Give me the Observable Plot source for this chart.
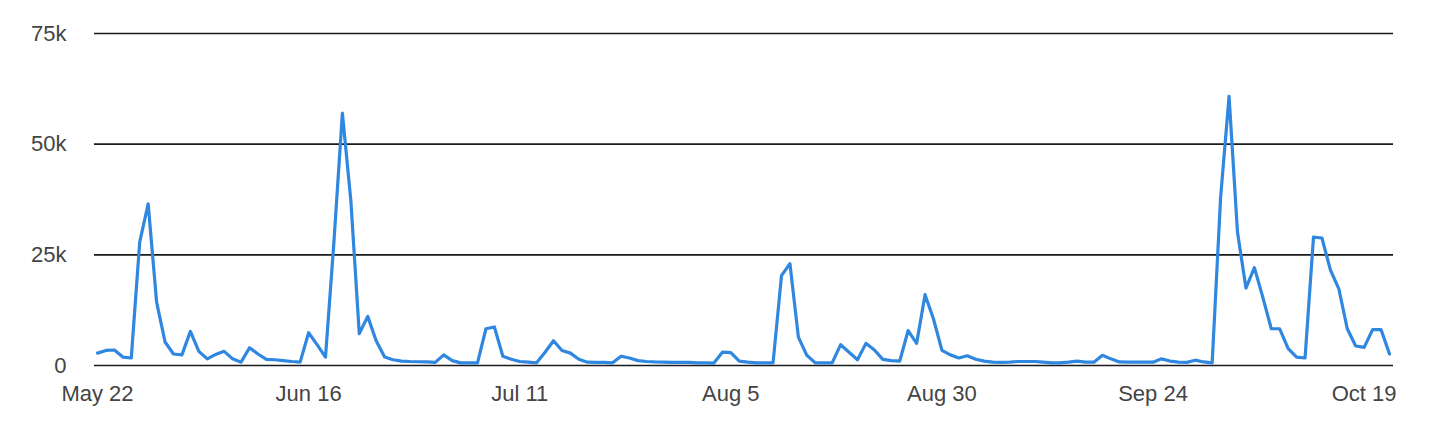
<!DOCTYPE html>
<html>
<head>
<meta charset="utf-8">
<script src="https://cdn.jsdelivr.net/npm/d3@7"></script>
<script src="https://cdn.jsdelivr.net/npm/@observablehq/plot@0.6"></script>
<style>
  html, body { margin: 0; padding: 0; background: #ffffff; }
  #chart { width: 1456px; height: 430px; overflow: hidden; }
</style>
</head>
<body>
<div id="chart"></div>
<script>
// ---- Data (daily values, starting May 22) ----
const startDate = "2023-05-22";
const dailyValues = [
  2800, 3400, 3500, 1900, 1700, 27900, 36500, 14300, 5300, 2600,
  2400, 7700, 3200, 1500, 2500, 3200, 1500, 750, 4000, 2600,
  1400, 1300, 1100, 900, 750, 7400, 4700, 1900, 28000, 57000,
  37300, 7200, 11100, 5600, 1900, 1300, 1000, 900, 850, 800,
  700, 2400, 1100, 600, 600, 600, 8300, 8700, 2100, 1400,
  900, 750, 600, 3000, 5600, 3400, 2800, 1400, 750, 700,
  700, 600, 2100, 1700, 1100, 900, 800, 750, 700, 700,
  700, 600, 600, 550, 3000, 2900, 1000, 750, 600, 600,
  600, 20300, 23000, 6400, 2300, 600, 600, 600, 4700, 3000,
  1300, 5000, 3500, 1400, 1100, 1000, 7900, 5000, 16000, 10500,
  3400, 2400, 1700, 2200, 1400, 1000, 750, 700, 750, 900,
  900, 900, 750, 600, 600, 750, 1000, 750, 750, 2300,
  1500, 800, 750, 750, 750, 750, 1500, 1000, 750, 700,
  1200, 800, 600, 38000, 60800, 30100, 17500, 22100, 15400, 8300,
  8300, 3800, 1900, 1700, 29000, 28800, 21600, 17300, 8300, 4400,
  4100, 8100, 8100, 2600
];
const xTickLabels = ["May 22", "Jun 16", "Jul 11", "Aug 5", "Aug 30", "Sep 24", "Oct 19"];
const yTicks = [0, 25000, 50000, 75000];
const yTickLabels = ["0", "25k", "50k", "75k"];
const year = 2023;

// ---- Build table ----
const start = d3.utcParse("%Y-%m-%d")(startDate);
const data = dailyValues.map((v, i) => ({ date: d3.utcDay.offset(start, i), value: v }));
const parseTick = d3.utcParse("%b %d %Y");
const xTicks = xTickLabels.map(s => parseTick(s + " " + year));
const xLabelOf = new Map(xTicks.map((d, i) => [+d, xTickLabels[i]]));
const yLabelOf = new Map(yTicks.map((d, i) => [d, yTickLabels[i]]));

const chart = Plot.plot({
  width: 1456,
  height: 430,
  marginLeft: 97,
  marginRight: 67,
  marginTop: 33,
  marginBottom: 65,
  style: {
    fontFamily: "'Liberation Sans', Arial, Helvetica, sans-serif",
    fontSize: "22px",
    color: "#444444",
    background: "#ffffff"
  },
  x: {
    type: "utc",
    domain: [data[0].date, data[data.length - 1].date],
    label: null
  },
  y: {
    domain: [0, 75000],
    label: null
  },
  marks: [
    Plot.ruleY(yTicks, { stroke: "#1a1a1a", strokeWidth: 1.6, insetLeft: -3, insetRight: -4 }),
    Plot.lineY(data, {
      x: "date",
      y: "value",
      stroke: "#2f87e0",
      strokeWidth: 3.2,
      strokeLinejoin: "round"
    }),
    Plot.axisX(xTicks, {
      tickSize: 0,
      tickPadding: 20,
      tickFormat: d => xLabelOf.get(+d),
      label: null,
      fill: "#444444"
    }),
    Plot.axisY(yTicks, {
      tickSize: 0,
      tickPadding: 31,
      tickFormat: d => yLabelOf.get(d),
      label: null,
      fill: "#444444"
    })
  ]
});
document.getElementById("chart").appendChild(chart);
</script>
</body>
</html>
